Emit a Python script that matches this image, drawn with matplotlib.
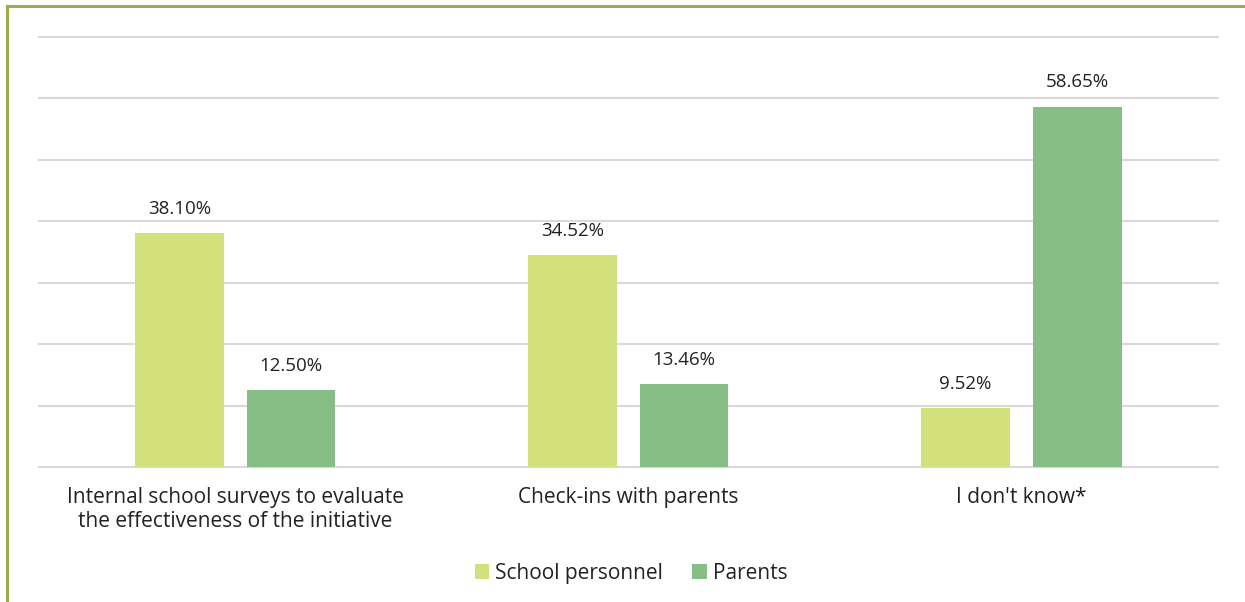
from matplotlib import pyplot as plt
from matplotlib.lines import Line2D
import numpy as np

categories = ["Internal school surveys to evaluate\nthe effectiveness of the initiative",
              "Check-ins with parents",
              "I don't know*"]
school_personnel = [38.10, 34.52, 9.52]
parents = [12.50, 13.46, 58.65]
series_names = ["School personnel", "Parents"]
colors = ["#d3e17d", "#87be85"]

plt.rcParams['font.family'] = ['Open Sans', 'DejaVu Sans']

fig = plt.figure(figsize=(12.45, 6.02), dpi=100)
ax = fig.add_axes([0.0313, 0.2243, 0.9470, 0.7142])

x = np.arange(len(categories))
width = 0.225
offset = 0.142

bars1 = ax.bar(x - offset, school_personnel, width, color=colors[0], label=series_names[0], zorder=3)
bars2 = ax.bar(x + offset, parents, width, color=colors[1], label=series_names[1], zorder=3)

for bars, vals in ((bars1, school_personnel), (bars2, parents)):
    for b, v in zip(bars, vals):
        ax.annotate("%.2f%%" % v, (b.get_x() + b.get_width() / 2, v),
                    xytext=(0, 11), textcoords="offset points",
                    ha="center", va="bottom", fontsize=13.5, color="#222222")

ax.set_xlim(-0.5, 2.5)
ax.set_ylim(0, 70)
for yv in np.arange(0, 71, 10):
    ax.axhline(yv, color="#d9d9d9", linewidth=1.5, zorder=0, clip_on=False)
ax.tick_params(left=False, labelleft=False, bottom=False)
ax.set_xticks(x)
ax.set_xticklabels(categories, fontsize=15, color="#222222", linespacing=1.15)
ax.tick_params(axis="x", pad=11)
for s in ax.spines.values():
    s.set_visible(False)

fig.legend(loc="center", bbox_to_anchor=(0.507, 0.048), ncol=2, frameon=False,
           fontsize=15, handlelength=0.7, handleheight=0.7, handletextpad=0.3,
           columnspacing=1.4, labelcolor="#222222")

# outer frame (top and left only)
border = "#9aad4b"
fig.add_artist(Line2D([0.006, 1.0], [0.9905, 0.9905], color=border, linewidth=2.2, transform=fig.transFigure))
fig.add_artist(Line2D([0.006, 0.006], [0.0, 0.9905], color=border, linewidth=2.2, transform=fig.transFigure))

fig.savefig("out.png", dpi=100)
